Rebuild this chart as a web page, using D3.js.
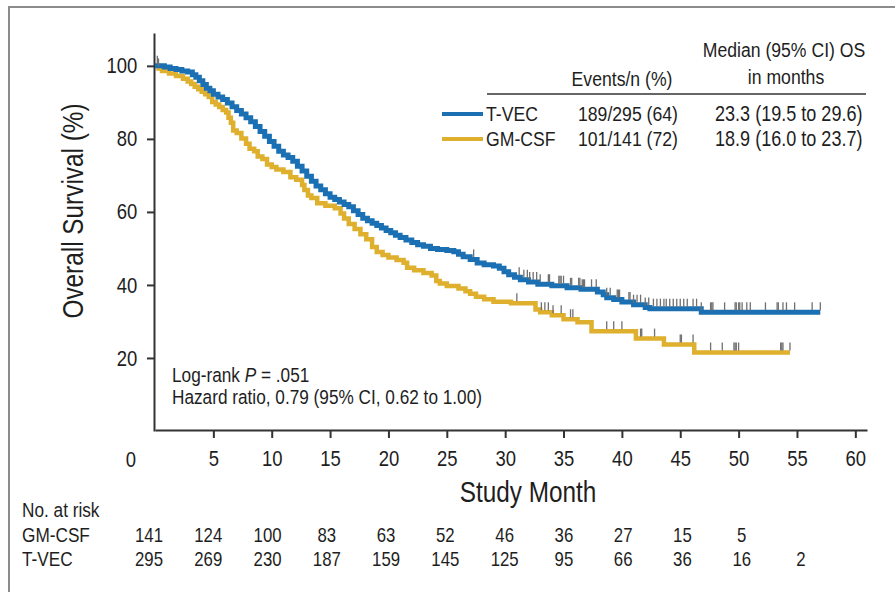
<!DOCTYPE html>
<html>
<head>
    <meta charset="utf-8">
    <title>Overall survival T-VEC vs GM-CSF</title>
    <style>
        body { margin: 0; background: #fff; }
        text { font-family: "Liberation Sans", Arial, sans-serif; fill: #1e1e1e; }
    </style>
</head>
<body>
    <script src="https://d3js.org/d3.v7.min.js"></script>
    <script>
    // Kaplan-Meier steps: month, survival (%)
    var tvecMonths = [0, 0.8, 1.3, 1.8, 2.3, 2.8, 3.2, 3.5, 3.8, 4.1, 4.4, 4.7, 5.0, 5.4, 5.8, 6.2, 6.6, 7.0, 7.4, 7.8,
        8.2, 8.6, 9.0, 9.4, 9.8, 10.2, 10.6, 11.0, 11.4, 11.8, 12.2, 12.6, 13.0, 13.4, 13.8, 14.2, 14.6, 15.0, 15.4, 15.8,
        16.2, 16.6, 17.0, 17.4, 17.8, 18.2, 18.6, 19.0, 19.4, 19.8, 20.2, 20.6, 21.0, 21.5, 22.0, 22.5, 23.0, 23.6, 24.2, 25.0,
        25.6, 26.0, 26.4, 27.0, 27.6, 28.2, 29.0, 29.5, 29.9, 30.3, 30.8, 31.3, 32.0, 32.8, 34.0, 35.3, 36.5, 37.9, 38.4, 38.7,
        39.3, 40.0, 41.0, 42.0, 42.4, 46.8, 57.0];
    var tvecSurv = [100, 99.7, 99.3, 99.0, 98.6, 98.3, 97.6, 96.9, 95.9, 94.9, 93.9, 93.2, 92.2, 91.5, 90.8, 89.8, 88.8, 87.8, 86.8, 85.8,
        84.7, 83.4, 82.0, 80.7, 79.3, 78.0, 76.6, 75.6, 74.9, 73.9, 72.5, 71.2, 69.8, 68.4, 67.1, 66.1, 65.0, 64.0, 63.4, 62.7,
        62.0, 61.4, 60.3, 59.3, 58.3, 57.6, 56.9, 56.3, 55.6, 54.9, 54.3, 53.6, 53.0, 52.3, 51.6, 51.0, 50.6, 50.0, 49.7, 49.4,
        49.1, 48.4, 47.7, 47.0, 46.0, 45.5, 45.2, 44.6, 43.6, 42.8, 42.1, 41.4, 40.8, 40.2, 39.8, 39.2, 38.8, 38.1, 37.3, 36.5,
        36.0, 35.3, 34.6, 33.8, 33.5, 32.5, 32.5];

    var gmMonths = [0, 0.3, 0.6, 1.2, 1.8, 2.4, 2.8, 3.1, 3.4, 3.7, 4.0, 4.3, 4.6, 4.9, 5.2, 5.5, 5.8, 6.1, 6.3, 6.5,
        6.7, 7.0, 7.4, 7.8, 8.1, 8.5, 8.8, 9.2, 9.6, 10.0, 10.4, 11.0, 11.6, 12.1, 12.6, 12.8, 13.1, 13.4, 13.9, 14.6,
        15.4, 15.9, 16.2, 16.6, 17.1, 17.6, 18.1, 18.6, 19.0, 19.5, 20.0, 20.7, 21.3, 21.6, 22.2, 23.0, 23.7, 24.1, 24.4, 25.0,
        26.0, 26.6, 27.0, 27.5, 28.2, 29.0, 30.5, 32.6, 33.0, 34.0, 35.0, 36.2, 37.4, 41.2, 43.6, 46.2, 54.4];
    var gmSurv = [100, 99.3, 98.6, 97.9, 97.2, 96.5, 95.7, 95.0, 94.3, 93.6, 92.9, 92.2, 91.5, 90.1, 89.4, 88.7, 87.9, 87.2, 85.8, 84.4,
        82.3, 81.6, 80.1, 78.7, 77.3, 76.6, 75.2, 74.5, 73.0, 72.3, 71.6, 70.9, 69.5, 68.8, 67.4, 66.0, 64.5, 63.8, 62.4, 61.7,
        61.0, 59.6, 58.2, 56.7, 55.3, 53.9, 52.5, 50.4, 49.0, 48.2, 47.5, 46.8, 46.1, 44.7, 44.0, 43.3, 42.6, 41.1, 40.4, 39.7,
        39.0, 38.3, 37.6, 36.8, 36.1, 35.4, 35.0, 33.3, 32.5, 31.7, 30.6, 29.8, 27.3, 25.3, 23.7, 21.5, 21.5];

    // censored observations (months)
    var tvecCensor = [0.2, 27.3, 31.2, 31.6, 31.9, 32.1, 32.4, 32.7, 33.0, 33.7, 33.8, 34.6, 34.7, 34.8, 35.0, 35.6, 35.7,
        36.3, 36.4, 36.6, 36.7, 36.8, 37.4, 37.8, 38.7, 39.0, 39.6, 39.7, 39.8, 40.6, 40.7, 41.0, 41.3, 41.6, 42.0, 42.3,
        42.7, 43.0, 43.3, 43.6, 43.8, 44.1, 44.4, 44.7, 45.0, 45.3, 45.6, 46.1, 46.4, 46.8, 47.6, 47.7, 47.8, 48.8, 49.7,
        49.8, 50.0, 50.1, 50.3, 50.7, 51.0, 52.3, 53.3, 53.4, 53.8, 54.1, 54.8, 56.3, 57.0];
    var gmCensor = [0.3, 31.0, 33.1, 33.4, 33.7, 34.1, 34.8, 35.6, 35.8, 38.7, 39.3, 40.0, 41.6, 41.7, 42.8, 45.0, 45.1,
        46.1, 47.6, 48.6, 49.6, 49.7, 49.8, 50.0, 53.6, 53.7, 53.8, 54.4];

    var xTicks = [5, 10, 15, 20, 25, 30, 35, 40, 45, 50, 55, 60];
    var yTicks = [20, 40, 60, 80, 100];

    var riskMonths = [0, 5, 10, 15, 20, 25, 30, 35, 40, 45, 50, 55];
    var riskGm = [141, 124, 100, 83, 63, 52, 46, 36, 27, 15, 5];
    var riskTvec = [295, 269, 230, 187, 159, 145, 125, 95, 66, 36, 16, 2];

    var legendRows = [
        {name: "T-VEC", events: "189/295 (64)", median: "23.3 (19.5 to 29.6)", color: "#1a70b2"},
        {name: "GM-CSF", events: "101/141 (72)", median: "18.9 (16.0 to 23.7)", color: "#dfb02d"}
    ];

    const width = 895, height = 592;
    const sx = 0.84; // the figure's type is condensed
    var svg = d3.select("body").append("svg")
        .attr("width", width)
        .attr("height", height);

    svg.append("rect").attr("width", width).attr("height", height).attr("fill", "#fff");
    // frame left/top of the cropped figure
    svg.append("path")
        .attr("d", "M9,592 V7 H895")
        .attr("fill", "none")
        .attr("stroke", "#8c8c8c")
        .attr("stroke-width", 2);

    function label(parent, x, y, txt, size, anchor) {
        return parent.append("text")
            .attr("transform", "translate(" + x + "," + y + ") scale(" + sx + ",1)")
            .attr("text-anchor", anchor || "start")
            .style("font-size", size + "px")
            .text(txt);
    }

    var x = d3.scaleLinear().domain([0, 61]).range([155, 867]);
    var y = d3.scaleLinear().domain([0, 109]).range([431, 33]);

    // axes
    var xAxis = svg.append("g")
        .attr("transform", "translate(0,430)")
        .call(d3.axisBottom(x).tickValues(xTicks).tickSize(8).tickSizeOuter(0).tickPadding(12));
    var yAxis = svg.append("g")
        .attr("transform", "translate(154,0)")
        .call(d3.axisLeft(y).tickValues(yTicks).tickSize(7).tickSizeOuter(0).tickPadding(13));
    [xAxis, yAxis].forEach(function(g) {
        g.select(".domain").attr("stroke", "#333").attr("stroke-width", 2);
        g.selectAll(".tick line").attr("stroke", "#333").attr("stroke-width", 2);
        g.selectAll(".tick text").attr("fill", "#1e1e1e").attr("transform", "scale(" + sx + ",1)")
            .style("font-size", "22px")
            .style("font-family", "'Liberation Sans', Arial, sans-serif");
    });
    label(svg, 131, 467, "0", 22, "middle");

    svg.append("text")
        .attr("transform", "translate(83,211) rotate(-90) scale(" + sx + ",1)")
        .attr("text-anchor", "middle")
        .style("font-size", "29px")
        .text("Overall Survival (%)");
    label(svg, 528, 502, "Study Month", 29, "middle");

    // survival curves
    function series(months, surv) {
        return months.map(function(m, i) { return {m: m, s: surv[i]}; });
    }
    var line = d3.line()
        .x(function(d) { return x(d.m); })
        .y(function(d) { return y(d.s); })
        .curve(d3.curveStepAfter);

    var gmData = series(gmMonths, gmSurv);
    var tvecData = series(tvecMonths, tvecSurv);

    svg.append("path").datum(gmData)
        .attr("d", line).attr("fill", "none")
        .attr("stroke", legendRows[1].color).attr("stroke-width", 4.5);
    svg.append("path").datum(tvecData)
        .attr("d", line).attr("fill", "none")
        .attr("stroke", legendRows[0].color).attr("stroke-width", 5);

    var bis = d3.bisector(function(d) { return d.m; }).right;
    function survAt(data, t) {
        var i = bis(data, t) - 1;
        return data[Math.max(0, i)].s;
    }
    function censorMarks(data, times) {
        svg.append("g").selectAll("line")
            .data(times)
            .enter()
            .append("line")
            .attr("x1", function(d) { return x(d); })
            .attr("x2", function(d) { return x(d); })
            .attr("y1", function(d) { return y(survAt(data, d)) - 2; })
            .attr("y2", function(d) { return y(survAt(data, d)) - 10; })
            .attr("stroke", "#707070")
            .attr("stroke-width", 1.3);
    }
    censorMarks(tvecData, tvecCensor);
    censorMarks(gmData, gmCensor);

    // legend table
    label(svg, 784, 57, "Median (95% CI) OS", 21, "middle");
    label(svg, 786, 84, "in months", 21, "middle");
    label(svg, 622, 86, "Events/n (%)", 21, "middle");
    svg.append("line").attr("x1", 487).attr("x2", 866).attr("y1", 94).attr("y2", 94)
        .attr("stroke", "#333").attr("stroke-width", 1.5);

    legendRows.forEach(function(d, i) {
        var g = svg.append("g").attr("transform", "translate(0," + (121 + i * 25) + ")");
        g.append("line").attr("x1", 442).attr("x2", 483).attr("y1", -7).attr("y2", -7)
            .attr("stroke", d.color).attr("stroke-width", 4);
        label(g, 486, 0, d.name, 21);
        label(g, 578, 0, d.events, 21);
        label(g, 715, 0, d.median, 21.5);
    });

    // statistics
    var stat = label(svg, 172, 382, "", 20.5);
    stat.append("tspan").text("Log-rank ");
    stat.append("tspan").style("font-style", "italic").text("P");
    stat.append("tspan").text(" = .051");
    label(svg, 172, 404, "Hazard ratio, 0.79 (95% CI, 0.62 to 1.00)", 20.5);

    // number at risk
    var col = d3.scaleLinear().domain([0, 55]).range([149, 801]);
    label(svg, 22, 517, "No. at risk", 20.5);
    var riskRows = [["GM-CSF", riskGm, 542], ["T-VEC", riskTvec, 566]];
    riskRows.forEach(function(r) {
        label(svg, 22, r[2], r[0], 20.5);
        r[1].forEach(function(d, i) {
            label(svg, col(riskMonths[i]), r[2], d, 20, "middle");
        });
    });
    </script>
</body>
</html>
